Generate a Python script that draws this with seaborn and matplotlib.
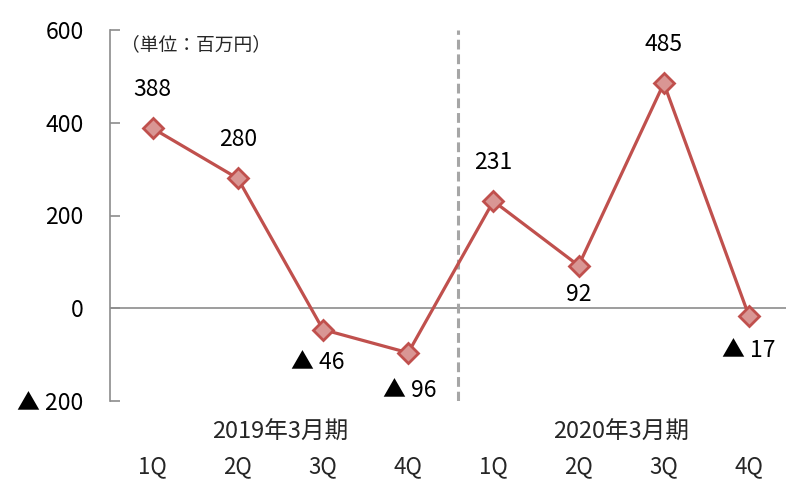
import matplotlib
matplotlib.use("Agg")
import matplotlib.pyplot as plt
import seaborn as sns
import pandas as pd

sns.set_theme(style="white")
plt.rcParams["font.family"] = ["Noto Sans CJK JP", "DejaVu Sans"]

quarters = ["1Q", "2Q", "3Q", "4Q", "1Q", "2Q", "3Q", "4Q"]
fiscal_years = ["2019年3月期", "2020年3月期"]
profit = [388, 280, -46, -96, 231, 92, 485, -17]
y_ticks = [-200, 0, 200, 400, 600]

df = pd.DataFrame({"pos": range(len(profit)), "profit": profit})

fig = plt.figure(figsize=(7.86, 4.80), dpi=100)
W, H = 786, 480
ax = fig.add_axes([110 / W, 1 - 401 / H, (W - 110) / W, (401 - 30) / H])

line_c = "#C0504D"
fill_c = "#D99694"
sns.lineplot(data=df, x="pos", y="profit", ax=ax, color=line_c, lw=2.3,
             marker="D", markersize=10, markerfacecolor=fill_c,
             markeredgecolor=line_c, markeredgewidth=2, zorder=3)

ax.set_xlim(-0.5, 7.434)
ax.set_ylim(-200, 600)
ax.axhline(0, color="#8c8c8c", lw=1.2, zorder=1)
ax.axvline(3.58, color="#a6a6a6", lw=2.2, ls=(0, (3.2, 1.6)), zorder=1)

for s in ["top", "right", "bottom"]:
    ax.spines[s].set_visible(False)
ax.spines["left"].set_color("#8c8c8c")
ax.spines["left"].set_linewidth(1.2)

def fmt(v):
    return f"▲ {abs(v)}" if v < 0 else f"{v}"

ax.set_yticks(y_ticks)
ax.set_yticklabels([fmt(v) for v in y_ticks], fontsize=16.5, color="black")
ax.tick_params(axis="y", direction="in", length=7, width=1.2, color="#8c8c8c",
               pad=19, left=True)
ax.set_xticks([])
ax.set_xlabel("")
ax.set_ylabel("")

# per-point label offsets (in points)
offsets = [(0, 28), (0, 28), (-4, -24), (1, -27), (0, 28), (0, -21), (0, 28), (0, -25)]
for i, v in enumerate(profit):
    dx, dy = offsets[i]
    ax.annotate(fmt(v), (i, v), xytext=(dx, dy), textcoords="offset points",
                ha="center", va="center", fontsize=16.5, color="black")

for i, q in enumerate(quarters):
    ax.annotate(q, (i, 0), xycoords=("data", "figure fraction"),
                xytext=(0, 1 - 467 / H), textcoords=("offset points", "figure fraction"),
                ha="center", va="center", fontsize=16)

for k, fy in enumerate(fiscal_years):
    ax.annotate(fy, (4 * k + 1.5, 0), xycoords=("data", "figure fraction"),
                xytext=(0, 1 - 432 / H), textcoords=("offset points", "figure fraction"),
                ha="center", va="center", fontsize=17)

fig.text(121 / W, 1 - 45 / H, "（単位：百万円）", fontsize=13.5, ha="left", va="center")

fig.savefig("out.png", dpi=100)
